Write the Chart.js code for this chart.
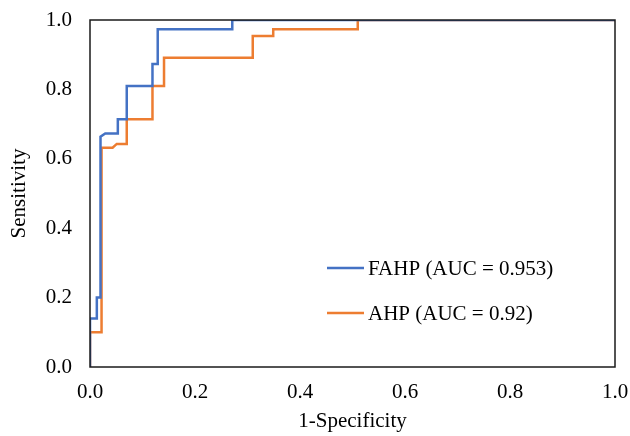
<!DOCTYPE html>
<html>
<head>
<meta charset="utf-8">
<script src="https://cdn.jsdelivr.net/npm/chart.js@4.4.1/dist/chart.umd.min.js"></script>
<style>
    html, body { margin: 0; padding: 0; background: #fff; }
    #wrap { width: 630px; height: 436px; }
</style>
</head>
<body>
<div id="wrap"><canvas id="rocChart" width="630" height="436"></canvas></div>
<script>
// ROC corner points (1-specificity, sensitivity)
const fahpFpr = [0, 0, 0.013, 0.013, 0.02, 0.02, 0.029, 0.053, 0.053, 0.07, 0.07, 0.119, 0.119, 0.129, 0.129, 0.271, 0.271, 1];
const fahpTpr = [0, 0.14, 0.14, 0.2, 0.2, 0.664, 0.673, 0.673, 0.714, 0.714, 0.81, 0.81, 0.873, 0.873, 0.973, 0.973, 1, 1];
const ahpFpr = [0, 0, 0.022, 0.022, 0.043, 0.051, 0.07, 0.07, 0.119, 0.119, 0.141, 0.141, 0.31, 0.31, 0.349, 0.349, 0.51, 0.51, 1];
const ahpTpr = [0, 0.1, 0.1, 0.632, 0.632, 0.643, 0.643, 0.714, 0.714, 0.81, 0.81, 0.891, 0.891, 0.954, 0.954, 0.973, 0.973, 1, 1];
const seriesLabels = ['FAHP (AUC = 0.953)', 'AHP (AUC = 0.92)'];
const tickValues = [0, 0.2, 0.4, 0.6, 0.8, 1.0];

const toPoints = (xs, ys) => xs.map((x, i) => ({ x: x, y: ys[i] }));

const serif = "'Liberation Serif', 'Times New Roman', serif";

const frameAndLegend = {
    id: 'frameAndLegend',
    afterDraw(chart) {
        const ctx = chart.ctx;
        const area = chart.chartArea;
        ctx.save();
        ctx.strokeStyle = '#1a1a1a';
        ctx.lineWidth = 1.5;
        ctx.strokeRect(area.left, area.top, area.right - area.left, area.bottom - area.top);

        ctx.font = '21px ' + serif;
        ctx.textBaseline = 'middle';
        ctx.fillStyle = '#000';
        const rows = [268, 313];
        chart.data.datasets.forEach((ds, i) => {
            const y = rows[i];
            ctx.strokeStyle = ds.borderColor;
            ctx.lineWidth = 2.5;
            ctx.beginPath();
            ctx.moveTo(327, y);
            ctx.lineTo(364, y);
            ctx.stroke();
            ctx.fillText(ds.label, 368, y + 1);
        });
        ctx.restore();
    },
};

new Chart(document.getElementById('rocChart'), {
    type: 'scatter',
    data: {
        datasets: [
            {
                label: seriesLabels[0],
                data: toPoints(fahpFpr, fahpTpr),
                showLine: true,
                borderColor: '#4472C4',
                borderWidth: 2.5,
                pointRadius: 0,
                tension: 0,
            },
            {
                label: seriesLabels[1],
                data: toPoints(ahpFpr, ahpTpr),
                showLine: true,
                borderColor: '#ED7D31',
                borderWidth: 2.5,
                pointRadius: 0,
                tension: 0,
            },
        ],
    },
    options: {
        responsive: false,
        animation: false,
        layout: {
            padding: { top: 20, right: 15, left: 0, bottom: 0 },
        },
        plugins: {
            legend: { display: false },
            tooltip: { enabled: false },
        },
        scales: {
            x: {
                type: 'linear',
                min: 0,
                max: 1,
                afterBuildTicks: (axis) => {
                    axis.ticks = tickValues.map((v) => ({ value: v }));
                },
                afterFit: (axis) => {
                    axis.height = 69;
                    axis.paddingLeft = 0;
                    axis.paddingRight = 0;
                },
                ticks: {
                    padding: 13,
                    color: '#000',
                    font: { family: serif, size: 21 },
                    callback: (v) => Number(v).toFixed(1),
                },
                grid: { display: false, drawTicks: false },
                border: { display: false },
                title: {
                    display: true,
                    text: '1-Specificity',
                    color: '#000',
                    font: { family: serif, size: 21 },
                    padding: { top: 4, bottom: 2 },
                },
            },
            y: {
                type: 'linear',
                min: 0,
                max: 1,
                afterBuildTicks: (axis) => {
                    axis.ticks = tickValues.map((v) => ({ value: v }));
                },
                afterFit: (axis) => {
                    axis.width = 90;
                    axis.paddingTop = 0;
                    axis.paddingBottom = 0;
                },
                ticks: {
                    padding: 18,
                    color: '#000',
                    font: { family: serif, size: 21 },
                    callback: (v) => Number(v).toFixed(1),
                },
                grid: { display: false, drawTicks: false },
                border: { display: false },
                title: {
                    display: true,
                    text: 'Sensitivity',
                    color: '#000',
                    font: { family: serif, size: 21 },
                    padding: { top: 7, bottom: 4 },
                },
            },
        },
    },
    plugins: [frameAndLegend],
});
</script>
</body>
</html>
